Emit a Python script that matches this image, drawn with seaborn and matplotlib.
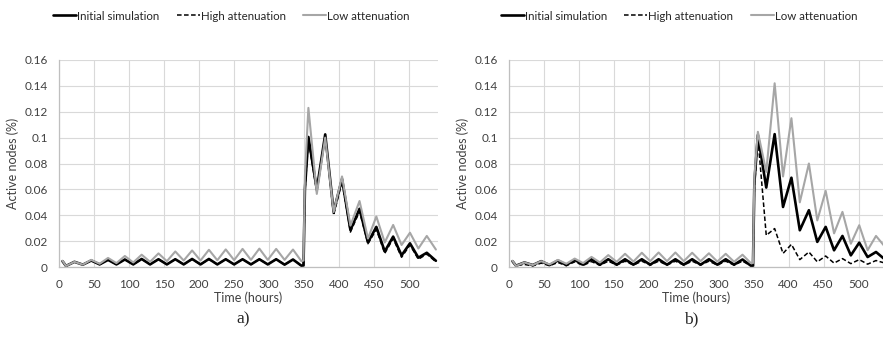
import matplotlib
matplotlib.use("Agg")
import matplotlib.pyplot as plt
import seaborn as sns
import numpy as np
import pandas as pd
from matplotlib.ticker import FuncFormatter

# time points (hours) at the peaks/troughs of the daily cycle
hours = [5, 10, 22, 34, 46, 58, 70, 82, 94, 106, 118, 130, 142, 154, 166, 178,
         190, 202, 214, 226, 238, 250, 262, 274, 286, 298, 310, 322, 334, 346,
         349, 351, 356, 368, 380, 392, 404, 416, 429, 441, 453, 465, 477, 489,
         501, 513, 525, 538]

# panel a)
a_initial = [0.0045, 0.0008, 0.004, 0.0018, 0.005, 0.002, 0.0055, 0.002, 0.0058, 0.002,
             0.0062, 0.002, 0.006, 0.002, 0.006, 0.002, 0.0062, 0.002, 0.0062, 0.002,
             0.006, 0.002, 0.006, 0.002, 0.006, 0.002, 0.006, 0.0018, 0.0058, 0.001,
             0.0012, 0.06, 0.1005, 0.06, 0.1025, 0.043, 0.068, 0.0285, 0.045, 0.019,
             0.031, 0.012, 0.0235, 0.009, 0.0183, 0.0072, 0.011, 0.0048]
a_high = [0.0045, 0.0008, 0.004, 0.0018, 0.005, 0.002, 0.0055, 0.002, 0.0058, 0.002,
          0.006, 0.002, 0.006, 0.002, 0.006, 0.002, 0.006, 0.002, 0.006, 0.002,
          0.006, 0.002, 0.006, 0.002, 0.006, 0.002, 0.006, 0.0018, 0.0056, 0.001,
          0.0012, 0.058, 0.098, 0.058, 0.1015, 0.040, 0.066, 0.027, 0.043, 0.018,
          0.029, 0.0105, 0.022, 0.0075, 0.017, 0.006, 0.010, 0.004]
a_low = [0.0048, 0.0008, 0.004, 0.0018, 0.0055, 0.0025, 0.007, 0.003, 0.0085, 0.0035,
         0.0095, 0.004, 0.0105, 0.0045, 0.012, 0.005, 0.0128, 0.005, 0.0133, 0.0052,
         0.0136, 0.0053, 0.014, 0.0055, 0.0142, 0.0055, 0.014, 0.0055, 0.0135, 0.0045,
         0.005, 0.07, 0.123, 0.0565, 0.100, 0.0425, 0.070, 0.032, 0.051, 0.022,
         0.039, 0.019, 0.0325, 0.017, 0.0265, 0.0143, 0.024, 0.0135]

# panel b)
b_initial = [0.0045, 0.001, 0.0035, 0.0015, 0.0045, 0.0015, 0.005, 0.0015, 0.0055, 0.0018,
             0.006, 0.0018, 0.006, 0.0018, 0.006, 0.0018, 0.006, 0.0018, 0.006, 0.0018,
             0.006, 0.0018, 0.006, 0.0018, 0.006, 0.0018, 0.006, 0.0018, 0.0058, 0.001,
             0.001, 0.065, 0.102, 0.0614, 0.1027, 0.0464, 0.069, 0.0284, 0.0439, 0.0194,
             0.031, 0.0129, 0.024, 0.009, 0.0188, 0.0077, 0.0116, 0.0057]
b_high = [0.004, 0.001, 0.002, 0.0008, 0.003, 0.001, 0.0035, 0.001, 0.004, 0.0012,
          0.0042, 0.0013, 0.0045, 0.0015, 0.0045, 0.0015, 0.0045, 0.0015, 0.0045, 0.0015,
          0.0045, 0.0015, 0.0045, 0.0015, 0.0045, 0.0015, 0.0045, 0.0015, 0.0045, 0.001,
          0.001, 0.06, 0.100, 0.0245, 0.0297, 0.0105, 0.0175, 0.0057, 0.0116, 0.004,
          0.0085, 0.003, 0.0065, 0.0026, 0.0057, 0.0022, 0.005, 0.003]
b_low = [0.0048, 0.0008, 0.0035, 0.0015, 0.0045, 0.002, 0.0055, 0.0025, 0.0065, 0.003,
         0.0078, 0.0035, 0.0092, 0.004, 0.0102, 0.0042, 0.011, 0.0045, 0.0112, 0.0045,
         0.0112, 0.0045, 0.011, 0.0045, 0.0106, 0.0042, 0.0102, 0.004, 0.0095, 0.003,
         0.003, 0.07, 0.1045, 0.0735, 0.142, 0.070, 0.115, 0.050, 0.080, 0.036,
         0.0588, 0.026, 0.0426, 0.018, 0.0323, 0.013, 0.024, 0.0155]

series_names = ["Initial simulation", "High attenuation", "Low attenuation"]
panel_labels = ["a)", "b)"]
x_ticks = list(range(0, 501, 50))
y_ticks = [0, 0.02, 0.04, 0.06, 0.08, 0.1, 0.12, 0.14, 0.16]

sns.set_theme(style="whitegrid")
plt.rcParams["font.family"] = ["Lato", "DejaVu Sans"]

styles = {
    "Initial simulation": dict(color="black", linewidth=1.9, linestyle="-"),
    "High attenuation": dict(color="black", linewidth=1.1, linestyle=(0, (3, 1.6))),
    "Low attenuation": dict(color="#a6a6a6", linewidth=1.5, linestyle="-"),
}

W, H = 883, 338
fig = plt.figure(figsize=(W / 100, H / 100), dpi=100)

panels = [
    dict(data=[a_initial, a_high, a_low], left=59, right=438, xmax=541),
    dict(data=[b_initial, b_high, b_low], left=509, right=883, xmax=535),
]
top_px, bottom_px = 60, 267

for p, lab in zip(panels, panel_labels):
    ax = fig.add_axes([p["left"] / W, 1 - bottom_px / H,
                       (p["right"] - p["left"]) / W, (bottom_px - top_px) / H])
    for name, vals in zip(series_names, p["data"]):
        df = pd.DataFrame({"t": hours, "v": vals})
        sns.lineplot(data=df, x="t", y="v", ax=ax, label=name, sort=False,
                     solid_joinstyle="round", **styles[name])
    handles, labels = ax.get_legend_handles_labels()
    ax.get_legend().remove()

    ax.set_xlim(0, p["xmax"])
    ax.set_ylim(0, 0.16)
    ax.set_xticks(x_ticks)
    ax.set_yticks(y_ticks)
    ax.yaxis.set_major_formatter(FuncFormatter(lambda v, _: f"{v:g}"))
    ax.tick_params(axis="both", length=0, labelsize=8.5, colors="#404040")
    ax.tick_params(axis="y", pad=8)
    ax.tick_params(axis="x", pad=9)
    ax.grid(True, color="#d9d9d9", linewidth=0.8)
    ax.set_facecolor("white")
    for s in ["top", "right"]:
        ax.spines[s].set_visible(False)
    for s in ["left", "bottom"]:
        ax.spines[s].set_color("#bfbfbf")
        ax.spines[s].set_linewidth(0.9)
    ax.set_xlabel("Time (hours)", fontsize=9, color="#404040", labelpad=1)
    ax.set_ylabel("Active nodes (%)", fontsize=9, color="#404040", labelpad=4)

    cx = (p["left"] + p["right"]) / 2
    fig.text((cx - 5) / W, 1 - 319 / H, lab, ha="center", va="center",
             fontsize=12.5, family="Liberation Serif")
    fig.legend(handles, labels, loc="center", bbox_to_anchor=((cx - 17) / W, 1 - 16 / H),
               ncol=3, frameon=False, fontsize=8.3, handlelength=2.0,
               handletextpad=0.1, columnspacing=1.5, borderpad=0)

fig.savefig("out.png", dpi=100, facecolor="white")
